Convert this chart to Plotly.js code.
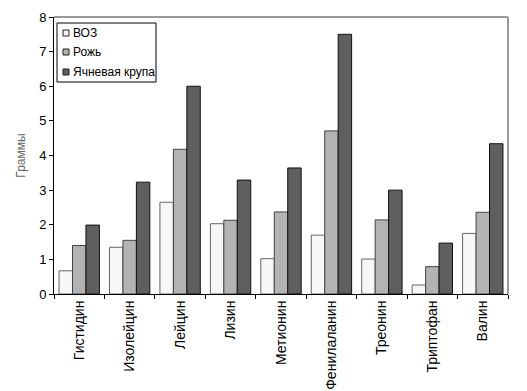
<!DOCTYPE html>
<html><head><meta charset="utf-8">
<script src="https://cdn.plot.ly/plotly-3.0.1.min.js"></script>
<style>html,body{margin:0;padding:0;background:#fff}#c{width:527px;height:391px}</style>
</head><body><div id="c"></div>
<script>
const categories = ["Гистидин","Изолейцин","Лейцин","Лизин","Метионин","Фенилаланин","Треонин","Триптофан","Валин"];
const voz   = [0.67, 1.35, 2.65, 2.03, 1.02, 1.70, 1.01, 0.26, 1.75];
const rye   = [1.40, 1.55, 4.18, 2.13, 2.37, 4.71, 2.14, 0.79, 2.36];
const barley= [1.99, 3.23, 6.00, 3.29, 3.64, 7.50, 3.00, 1.47, 4.34];
const seriesNames = ["ВОЗ","Рожь","Ячневая крупа"];
const yTicks = [0,1,2,3,4,5,6,7,8];

const fam = "Liberation Sans, Arial, sans-serif";
const fills = ["#f7f7f7","#b3b3b3","#5f5f5f"];
const edges = ["#666","#444","#111"];
const data = [voz, rye, barley];
const traces = data.map((vals,i)=>({type:"bar", name:seriesNames[i], x:categories, y:vals,
  marker:{color:fills[i], line:{color:edges[i], width:1}}}));

// custom legend (layout only)
const shapes = [
  {type:"line", xref:"paper", yref:"paper", x0:0, x1:1, y0:1, y1:1, line:{color:"#999", width:2}},
  {type:"line", xref:"paper", yref:"paper", x0:1, x1:1, y0:0, y1:1, line:{color:"#999", width:2}},
  {type:"rect", xref:"paper", yref:"paper", xsizemode:"pixel", ysizemode:"pixel", xanchor:0, yanchor:1,
   x0:3, x1:102, y0:-6, y1:-65, fillcolor:"#fff", line:{color:"#000", width:1}}
];
const annotations = [];
const rowOff = [16, 35, 55];
seriesNames.forEach((n,i)=>{
  shapes.push({type:"rect", xref:"paper", yref:"paper", xsizemode:"pixel", ysizemode:"pixel", xanchor:0, yanchor:1,
    x0:9, x1:15, y0:-(rowOff[i]-3), y1:-(rowOff[i]+3), fillcolor:fills[i], line:{color:"#222", width:1}});
  annotations.push({xref:"paper", yref:"paper", x:0, y:1, xshift:17, yshift:-rowOff[i], xanchor:"left", yanchor:"middle",
    text:n, showarrow:false, font:{family:fam, size:12, color:"#000"}});
});

const layout = {
  width:527, height:391,
  margin:{l:54, r:19, t:17, b:97},
  paper_bgcolor:"#fff", plot_bgcolor:"#fff",
  font:{family:fam, size:12, color:"#000"},
  barmode:"group", bargap:0.2, bargroupgap:0,
  showlegend:false,
  xaxis:{type:"category", tickangle:-90, showline:true, linecolor:"#000", linewidth:1,
         ticks:"outside", tickson:"boundaries", ticklen:4, tickcolor:"#000",
         showgrid:false, tickfont:{family:fam, size:14, color:"#000"}, automargin:false},
  yaxis:{range:[0,8], tickvals:yTicks, ticktext:yTicks.map(String), showline:true, linecolor:"#000", linewidth:1,
         ticks:"outside", ticklen:4, tickcolor:"#000", showgrid:false, zeroline:false,
         tickfont:{family:fam, size:13, color:"#000"}, automargin:false,
         title:{text:"Граммы", font:{family:fam, size:12, color:"#666"}, standoff:10}},
  shapes:shapes,
  annotations:annotations
};
Plotly.newPlot("c", traces, layout, {staticPlot:true, displayModeBar:false});
</script></body></html>
